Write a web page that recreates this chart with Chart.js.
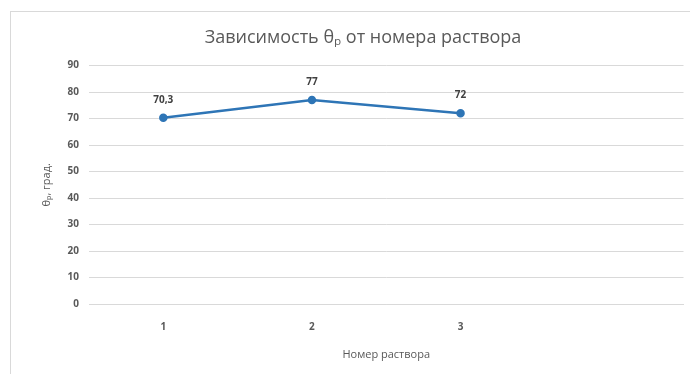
<!DOCTYPE html>
<html><head><meta charset="utf-8">
<script src="https://cdn.jsdelivr.net/npm/chart.js@4"></script>
<style>
html,body{margin:0;padding:0;background:#fff;}
#wrap{position:relative;width:690px;height:374px;}
#frame{position:absolute;left:10px;top:11px;width:690px;height:374px;border-left:1px solid #d9d9d9;border-top:1px solid #d9d9d9;box-sizing:border-box;pointer-events:none;}
</style></head>
<body>
<div id="wrap"><canvas id="c" width="690" height="374"></canvas><div id="frame"></div></div>
<script>
const categories = ["1", "2", "3", ""];
const thetaValues = [70.3, 77, 72, null];
const yTicks = [0, 10, 20, 30, 40, 50, 60, 70, 80, 90];
const titleText = "Зависимость θₚ от номера раствора";
const xTitle = "Номер раствора";
const yTitle = "θₚ, град.";

const fontFam = "'Open Sans', 'DejaVu Sans', sans-serif";
const grey = "#595959";

const labelPlugin = {
  id: 'vlabels',
  afterDatasetsDraw(chart) {
    const ctx = chart.ctx;
    const meta = chart.getDatasetMeta(0);
    ctx.save();
    ctx.font = "bold 10px " + fontFam;
    ctx.fillStyle = "#404040";
    ctx.textAlign = "center";
    ctx.textBaseline = "middle";
    meta.data.forEach((pt, i) => {
      const v = thetaValues[i];
      if (v === null || v === undefined) return;
      ctx.fillText(String(v).replace('.', ','), pt.x, pt.y - 18);
    });
    ctx.restore();
  }
};

new Chart(document.getElementById('c'), {
  type: 'line',
  data: {
    labels: categories,
    datasets: [{
      data: thetaValues,
      borderColor: '#2e75b6',
      backgroundColor: '#2e75b6',
      borderWidth: 2.5,
      pointRadius: 3,
      pointBackgroundColor: '#2e75b6',
      pointBorderColor: '#2e75b6',
      tension: 0,
      spanGaps: false
    }]
  },
  options: {
    responsive: false,
    animation: false,
    layout: { padding: { left: 40, right: 4, top: 0, bottom: 13 } },
    plugins: {
      legend: { display: false },
      tooltip: { enabled: false },
      title: {
        display: true,
        text: titleText,
        color: grey,
        font: { family: fontFam, size: 18, weight: 'normal' },
        padding: { top: 27, bottom: 17 }
      }
    },
    scales: {
      x: {
        offset: true,
        grid: { display: false, drawTicks: false },
        border: { display: true, color: '#d9d9d9', width: 1 },
        ticks: { color: grey, font: { family: fontFam, size: 10, weight: 'bold' }, padding: 17, maxRotation: 0 },
        title: { display: true, text: xTitle, color: grey, font: { family: fontFam, size: 11 }, padding: { top: 8, bottom: 0 } },
        afterFit(s) { s.height = 57; }
      },
      y: {
        min: 0, max: 90,
        afterBuildTicks(s) { s.ticks = yTicks.map(v => ({ value: v })); },
        grid: { color: '#d9d9d9', lineWidth: 1, drawTicks: false },
        border: { display: false },
        ticks: { color: grey, font: { family: fontFam, size: 10, weight: 'bold' }, padding: 10 },
        title: { display: true, text: yTitle, color: grey, font: { family: fontFam, size: 11 }, padding: { top: 0, bottom: 0 } },
        afterFit(s) { s.width = 49; }
      }
    }
  },
  plugins: [labelPlugin]
});
</script>
</body></html>
